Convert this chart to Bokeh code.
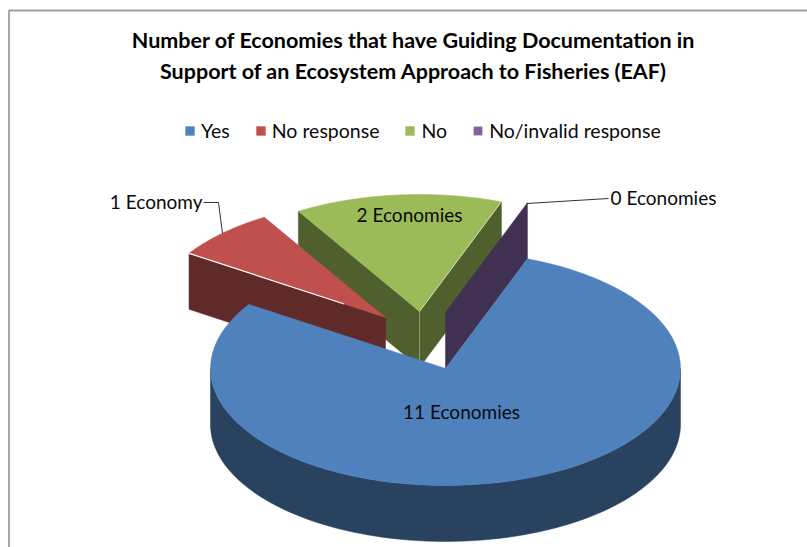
import numpy as np
from bokeh.core.properties import value
from bokeh.embed import file_html
from bokeh.models import Legend, LegendItem, Range1d
from bokeh.plotting import figure
from bokeh.resources import INLINE

# Chart content
title_lines = [
    "Number of Economies that have Guiding Documentation in",
    "Support of an Ecosystem Approach to Fisheries (EAF)",
]
categories = ["Yes", "No response", "No", "No/invalid response"]
economies = [11, 1, 2, 0]
slice_labels = ["11 Economies", "1 Economy", "2 Economies", "0 Economies"]
top_colors = ["#4F81BD", "#C0504D", "#9BBB59", "#8064A2"]
wall_colors = ["#284260", "#5F2A28", "#4F5F2D", "#403152"]

# Pie geometry in page pixels
CX, CY = 445.0, 368.0
RX, RY = 235.0, 117.0
DEPTH = 56.0
START_DEG = 20.4
EXPLODE = [(0.0, 0.0), (-60.0, -51.0), (-26.0, -57.0), (0.0, -56.0)]

W, H = 807, 547

p = figure(width=W, height=H, output_backend="svg", toolbar_location=None,
           x_range=Range1d(0, W), y_range=Range1d(H, 0),
           min_border=0, outline_line_color=None, background_fill_color="white")
p.axis.visible = False
p.grid.visible = False


def rim(a0, a1, n=90):
    """Unit ellipse points from a0 to a1, degrees clockwise from twelve o'clock."""
    t = np.radians(np.linspace(a0, a1, n))
    return RX * np.sin(t), -RY * np.cos(t)


# Slice extents follow from the values
total = sum(economies)
edges = START_DEG + np.cumsum([0] + [v / total * 360 for v in economies])
spans = list(zip(edges[:-1], edges[1:]))


def top_face(i):
    a0, a1 = spans[i]
    dx, dy = EXPLODE[i]
    x, y = rim(a0, a1)
    return np.r_[CX + dx, CX + dx + x], np.r_[CY + dy, CY + dy + y]


def wall(i, angle):
    dx, dy = EXPLODE[i]
    x, y = rim(angle, angle, 1)
    ax, ay = CX + dx, CY + dy
    xs = [ax, ax + x[0], ax + x[0], ax]
    ys = [ay, ay + y[0], ay + y[0] + DEPTH, ay + DEPTH]
    p.patch(xs, ys, fill_color=wall_colors[i], line_color=wall_colors[i], line_width=0.5)


# Back-to-front drawing order
wall(2, spans[2][0])
wall(2, spans[2][1])
gx, gy = top_face(2)
green_top = p.patch(gx, gy, fill_color=top_colors[2], line_color=top_colors[2], line_width=0.5)
# Pale seams on the green wedge: front corner and right edge
p.line([gx[0], gx[0]], [gy[0], gy[0] + DEPTH], line_color="#8A9A6A", line_width=1)
p.line([gx[0], gx[-1]], [gy[0], gy[-1]], line_color="#DDE8C4", line_width=0.8)

# The empty slice has no visible face, only a wall
px_, py_ = top_face(3)
purple_face = p.patch(px_, py_, fill_color=top_colors[3], line_color=top_colors[3], line_width=0)
wall(3, spans[3][0])

wall(1, spans[1][0])
rx, ry = top_face(1)
red_top = p.patch(rx, ry, fill_color=top_colors[1], line_color=top_colors[1], line_width=0.5)
# Highlight along the red wedge's lower edge, stopping short of the point
SEAM = 0.79
p.line([rx[1], rx[1] + SEAM * (rx[0] - rx[1])], [ry[1], ry[1] + SEAM * (ry[0] - ry[1])],
       line_color="white", line_width=1.2)

# Outer wall of the large slice, front half only
bx, by = rim(90, 270)
p.patch(np.r_[CX + bx, CX + bx[::-1]], np.r_[CY + by, CY + by[::-1] + DEPTH],
        fill_color=wall_colors[0], line_color=wall_colors[0], line_width=0.5)
tx, ty = top_face(0)
blue_top = p.patch(tx, ty, fill_color=top_colors[0], line_color=top_colors[0], line_width=0.5)

# Chart frame
p.line([8.5, 8.5], [H, 10], line_color="#888888", line_width=1.5)
p.line([8, W], [10, 10], line_color="#9E9E9E", line_width=2)

# Title
for line, yy in zip(title_lines, [39, 70]):
    p.text([413], [yy], text=[line], text_align="center", text_baseline="middle",
           text_font=value("Lato"), text_font_style="bold",
           text_font_size="21.5px", text_color="black")

# Slice labels and their leader lines
label_font = dict(text_font=value("Lato"), text_font_size="19px", text_color="#0A0A0A",
                  text_baseline="middle")
p.text([461], [411], text=[slice_labels[0]], text_align="center", **label_font)
p.text([202], [201], text=[slice_labels[1]], text_align="right", **label_font)
p.text([409], [214], text=[slice_labels[2]], text_align="center", **label_font)
p.text([610], [197], text=[slice_labels[3]], text_align="left", **label_font)
p.line([203, 218, 222], [202, 202, 233], line_color="#333333", line_width=1)
p.line([526, 608], [203, 198], line_color="#333333", line_width=1)

# Legend along the top
legend = Legend(
    items=[
        LegendItem(label=categories[0], renderers=[blue_top]),
        LegendItem(label=categories[1], renderers=[red_top]),
        LegendItem(label=categories[2], renderers=[green_top]),
        LegendItem(label=categories[3], renderers=[purple_face]),
    ],
    orientation="horizontal", location=(178 + 6, H - 142), border_line_color=None,
    background_fill_alpha=0, glyph_width=11, glyph_height=11, label_standoff=6,
    spacing=25, padding=6, margin=0, label_text_font="Lato", label_text_font_size="19.5px",
    label_text_color="#0A0A0A",
)
p.add_layout(legend, "center")

open("out.html", "w").write(file_html(p, INLINE))
